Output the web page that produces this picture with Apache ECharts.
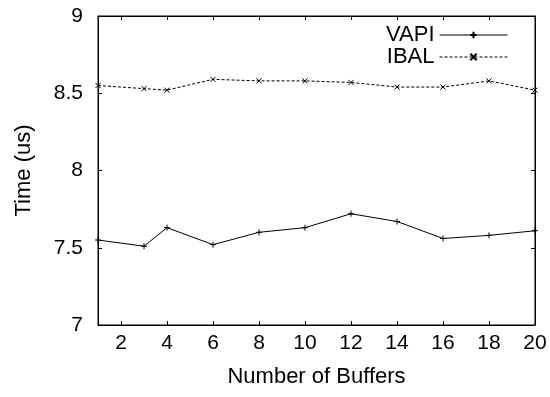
<!DOCTYPE html>
<html><head><meta charset="utf-8">
<script src="https://cdn.jsdelivr.net/npm/echarts@6/dist/echarts.min.js"></script>
<style>html,body{margin:0;padding:0;background:#fff}#c{width:550px;height:397px}</style>
</head><body><div id="c"></div>
<script>
var xValues = [1, 3, 4, 6, 8, 10, 12, 14, 16, 18, 20];
var vapi = [7.55, 7.51, 7.63, 7.52, 7.60, 7.63, 7.72, 7.67, 7.56, 7.58, 7.61];
var ibal = [8.55, 8.53, 8.52, 8.59, 8.58, 8.58, 8.57, 8.54, 8.54, 8.58, 8.52];
var xTicks = [2, 4, 6, 8, 10, 12, 14, 16, 18, 20];
var yTicks = [7, 7.5, 8, 8.5, 9];

var FONT = 'Liberation Sans';
var FS = 21;
function pairs(ys){ return xValues.map(function(x,i){return [x, ys[i]];}); }
var plus = 'path://M0,5L10,5M5,0L5,10';
var cross = 'path://M0,0L10,10M10,0L0,10';
var tickStyle = {show:true, inside:true, length:4, lineStyle:{color:'#000', width:1}};
var chart = echarts.init(document.getElementById('c'));
chart.setOption({
  animation:false,
  backgroundColor:'#fff',
  textStyle:{fontFamily:FONT},
  grid:{left:98, right:15, top:16, bottom:72, show:true, borderColor:'#000', borderWidth:1},
  legend:{
    top:24, right:42, orient:'vertical', align:'right', itemWidth:68, itemHeight:8, itemGap:0, padding:0,
    textStyle:{fontFamily:FONT, fontSize:22, lineHeight:22, color:'#000'},
    lineStyle:{width:1},
    data:[{name:'VAPI'},{name:'IBAL'}]
  },
  xAxis:[{
    type:'value', min:1, max:20, position:'bottom',
    name:'Number of Buffers', nameLocation:'middle', nameGap:41,
    nameTextStyle:{fontFamily:FONT, fontSize:22, color:'#000'},
    axisLine:{show:true, lineStyle:{color:'#000'}},
    axisTick:Object.assign({customValues:xTicks}, tickStyle),
    axisLabel:{customValues:xTicks, fontFamily:FONT, fontSize:FS, color:'#000', margin:8},
    splitLine:{show:false}
  },{
    type:'value', min:1, max:20, position:'top',
    axisLine:{show:true, lineStyle:{color:'#000'}},
    axisTick:Object.assign({customValues:xTicks}, tickStyle),
    axisLabel:{show:false},
    splitLine:{show:false}
  }],
  yAxis:[{
    type:'value', min:7, max:9, interval:0.5, position:'left',
    name:'Time (us)', nameLocation:'middle', nameGap:63, nameRotate:90,
    nameTextStyle:{fontFamily:FONT, fontSize:22, color:'#000'},
    axisLine:{show:true, lineStyle:{color:'#000'}},
    axisTick:Object.assign({customValues:yTicks}, tickStyle),
    axisLabel:{customValues:yTicks, fontFamily:FONT, fontSize:FS, color:'#000', margin:15},
    splitLine:{show:false}
  },{
    type:'value', min:7, max:9, interval:0.5, position:'right',
    axisLine:{show:true, lineStyle:{color:'#000'}},
    axisTick:Object.assign({customValues:yTicks}, tickStyle),
    axisLabel:{show:false},
    splitLine:{show:false}
  }],
  series:[{
    name:'VAPI', type:'line', data:pairs(vapi),
    symbol:plus, symbolSize:6, showSymbol:true,
    lineStyle:{color:'#000', width:1},
    itemStyle:{color:'#000', borderColor:'#000', borderWidth:1}
  },{
    name:'IBAL', type:'line', data:pairs(ibal),
    symbol:cross, symbolSize:5, showSymbol:true,
    lineStyle:{color:'#000', width:1, type:[3,2]},
    itemStyle:{color:'#000', borderColor:'#000', borderWidth:1}
  }]
});
</script></body></html>
